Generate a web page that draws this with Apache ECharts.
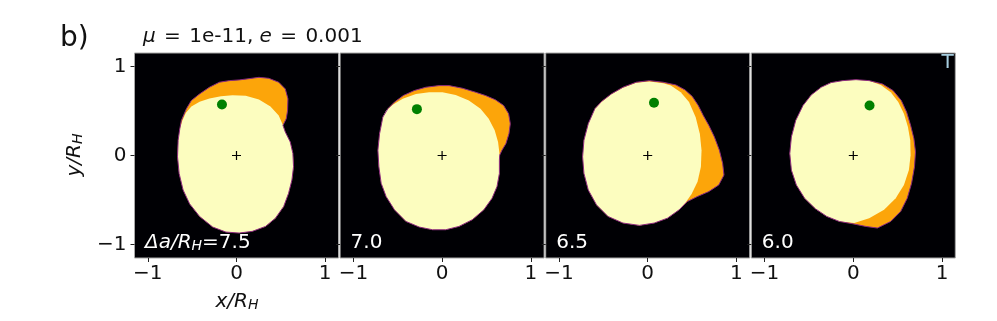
<!DOCTYPE html>
<html>
<head>
<meta charset="utf-8">
<script src="https://cdn.jsdelivr.net/npm/echarts@6/dist/echarts.min.js"></script>
<style>
  html, body { margin: 0; padding: 0; background: #fff; }
  #chart { width: 997px; height: 321px; }
</style>
</head>
<body>
<div id="chart"></div>
<script>
// tick values and panel labels
const tickValues = [-1, 0, 1];
const spacings = ['7.5', '7.0', '6.5', '6.0'];
const axisLimit = 1.15;

// outer outline (orange + yellow) of each stable region, in x/R_H, y/R_H
const outer1 = [[-0.621,0.394],[-0.565,0.524],[-0.509,0.617],[-0.416,0.691],[-0.305,0.766],[-0.193,0.822],[-0.082,0.840],[0.030,0.848],[0.141,0.862],[0.253,0.877],[0.364,0.866],[0.476,0.822],[0.550,0.747],[0.580,0.636],[0.576,0.506],[0.561,0.413],[0.524,0.338],[0.550,0.264],[0.606,0.152],[0.636,0.022],[0.643,-0.126],[0.625,-0.275],[0.587,-0.424],[0.532,-0.572],[0.439,-0.703],[0.327,-0.796],[0.178,-0.851],[0.030,-0.870],[-0.119,-0.859],[-0.268,-0.803],[-0.416,-0.684],[-0.528,-0.543],[-0.602,-0.387],[-0.647,-0.201],[-0.665,-0.015],[-0.658,0.171],[-0.639,0.301]];
const yellow1 = [[-0.610,0.394],[-0.572,0.476],[-0.509,0.550],[-0.416,0.602],[-0.305,0.639],[-0.175,0.665],[-0.045,0.677],[0.104,0.669],[0.253,0.628],[0.383,0.550],[0.476,0.450],[0.524,0.338],[0.550,0.264],[0.606,0.152],[0.636,0.022],[0.643,-0.126],[0.625,-0.275],[0.587,-0.424],[0.532,-0.572],[0.439,-0.703],[0.327,-0.796],[0.178,-0.851],[0.030,-0.870],[-0.119,-0.859],[-0.268,-0.803],[-0.416,-0.684],[-0.528,-0.543],[-0.602,-0.387],[-0.647,-0.201],[-0.665,-0.015],[-0.658,0.171],[-0.639,0.301]];

const outer2 = [[-0.668,0.431],[-0.705,0.245],[-0.724,0.059],[-0.713,-0.126],[-0.687,-0.312],[-0.631,-0.461],[-0.537,-0.610],[-0.407,-0.740],[-0.257,-0.803],[-0.108,-0.833],[0.041,-0.833],[0.190,-0.796],[0.340,-0.721],[0.470,-0.610],[0.563,-0.480],[0.619,-0.349],[0.646,-0.201],[0.646,-0.052],[0.649,0.004],[0.675,0.059],[0.720,0.134],[0.754,0.245],[0.769,0.357],[0.750,0.468],[0.694,0.561],[0.601,0.625],[0.489,0.673],[0.377,0.710],[0.228,0.755],[0.078,0.784],[-0.034,0.784],[-0.183,0.766],[-0.313,0.729],[-0.437,0.673],[-0.537,0.599],[-0.612,0.524]];
const yellow2 = [[-0.668,0.431],[-0.705,0.245],[-0.724,0.059],[-0.713,-0.126],[-0.687,-0.312],[-0.631,-0.461],[-0.537,-0.610],[-0.407,-0.740],[-0.257,-0.803],[-0.108,-0.833],[0.041,-0.833],[0.190,-0.796],[0.340,-0.721],[0.470,-0.610],[0.563,-0.480],[0.619,-0.349],[0.646,-0.201],[0.646,-0.052],[0.649,0.004],[0.631,0.152],[0.593,0.283],[0.526,0.413],[0.433,0.524],[0.302,0.617],[0.153,0.680],[0.004,0.710],[-0.146,0.710],[-0.295,0.691],[-0.444,0.636],[-0.556,0.569],[-0.631,0.506]];

const outer3 = [[-0.596,0.524],[-0.670,0.357],[-0.719,0.171],[-0.734,-0.015],[-0.719,-0.201],[-0.670,-0.387],[-0.577,-0.554],[-0.447,-0.684],[-0.279,-0.758],[-0.093,-0.784],[0.074,-0.758],[0.223,-0.703],[0.354,-0.610],[0.447,-0.517],[0.559,-0.461],[0.689,-0.405],[0.801,-0.331],[0.860,-0.219],[0.845,-0.089],[0.808,0.059],[0.752,0.208],[0.689,0.338],[0.626,0.450],[0.570,0.561],[0.503,0.662],[0.421,0.736],[0.317,0.792],[0.175,0.822],[0.019,0.840],[-0.130,0.822],[-0.279,0.766],[-0.410,0.691],[-0.521,0.606]];
const yellow3 = [[-0.596,0.524],[-0.670,0.357],[-0.719,0.171],[-0.734,-0.015],[-0.719,-0.201],[-0.670,-0.387],[-0.577,-0.554],[-0.447,-0.684],[-0.279,-0.758],[-0.093,-0.784],[0.074,-0.758],[0.223,-0.703],[0.354,-0.610],[0.428,-0.528],[0.495,-0.431],[0.562,-0.294],[0.600,-0.126],[0.607,0.059],[0.588,0.245],[0.540,0.431],[0.466,0.599],[0.372,0.710],[0.261,0.784],[0.175,0.812],[0.019,0.830],[-0.130,0.815],[-0.279,0.760],[-0.410,0.686],[-0.521,0.601]];

const outer4 = [[-0.119,0.840],[0.030,0.851],[0.179,0.840],[0.328,0.803],[0.448,0.729],[0.541,0.617],[0.601,0.487],[0.646,0.338],[0.683,0.190],[0.701,0.041],[0.690,-0.126],[0.657,-0.312],[0.608,-0.480],[0.534,-0.628],[0.422,-0.740],[0.272,-0.814],[0.142,-0.796],[-0.007,-0.766],[-0.157,-0.740],[-0.299,-0.684],[-0.425,-0.599],[-0.549,-0.480],[-0.642,-0.331],[-0.698,-0.164],[-0.716,0.022],[-0.698,0.208],[-0.649,0.394],[-0.567,0.561],[-0.474,0.680],[-0.362,0.766],[-0.250,0.818]];
const yellow4 = [[-0.119,0.840],[0.030,0.851],[0.179,0.840],[0.310,0.792],[0.422,0.710],[0.507,0.599],[0.571,0.468],[0.616,0.320],[0.642,0.171],[0.646,0.004],[0.627,-0.164],[0.571,-0.331],[0.478,-0.480],[0.347,-0.610],[0.179,-0.703],[0.011,-0.758],[-0.157,-0.740],[-0.299,-0.684],[-0.425,-0.599],[-0.549,-0.480],[-0.642,-0.331],[-0.698,-0.164],[-0.716,0.022],[-0.698,0.208],[-0.649,0.394],[-0.567,0.561],[-0.474,0.680],[-0.362,0.766],[-0.250,0.818]];

// planet position (green dot) and centre (+) in each panel
const planets = [[-0.164,0.572],[-0.284,0.520],[0.071,0.591],[0.183,0.561]];
const centres = [[0,0],[0,0],[0,0],[0,0]];

const outers = [outer1, outer2, outer3, outer4];
const yellows = [yellow1, yellow2, yellow3, yellow4];

const FONT = 'DejaVu Sans';
const chart = echarts.init(document.getElementById('chart'), null, { renderer: 'canvas' });

const panelLeft = 134.5, panelStep = 205.6, panelW = 204, panelTop = 53, panelH = 205;

const grids = [], xAxes = [], yAxes = [], series = [];
const minus = v => String(v).replace('-', '\u2212');

function polygonSeries(pts, i, fill, stroke, z) {
  return {
    type: 'custom',
    xAxisIndex: i,
    yAxisIndex: i,
    clip: true,
    z: z,
    silent: true,
    data: pts,
    renderItem: function (params, api) {
      if (params.dataIndex !== 0) return null;
      return {
        type: 'polygon',
        shape: { points: pts.map(p => api.coord(p)) },
        style: { fill: fill, stroke: stroke, lineWidth: stroke === 'none' ? 0 : 1, opacity: 1 }
      };
    }
  };
}

for (let i = 0; i < 4; i++) {
  grids.push({
    left: panelLeft + i * panelStep,
    top: panelTop,
    width: panelW,
    height: panelH,
    show: true,
    backgroundColor: '#000004',
    borderColor: '#a8a8a8',
    borderWidth: 1
  });
  xAxes.push({
    gridIndex: i,
    type: 'value',
    min: -axisLimit,
    max: axisLimit,
    axisLine: { show: false, onZero: false },
    splitLine: { show: false },
    axisTick: { show: true, length: 4, lineStyle: { color: '#222', width: 1 }, customValues: tickValues },
    axisLabel: {
      customValues: tickValues,
      formatter: minus,
      color: '#111',
      fontSize: 20,
      fontFamily: FONT,
      margin: 6
    }
  });
  yAxes.push({
    gridIndex: i,
    type: 'value',
    min: -axisLimit,
    max: axisLimit,
    axisLine: { show: false, onZero: false },
    splitLine: { show: false },
    axisTick: { show: true, length: 4, lineStyle: { color: '#222', width: 1 }, customValues: tickValues },
    axisLabel: {
      show: i === 0,
      customValues: tickValues,
      formatter: minus,
      color: '#111',
      fontSize: 20,
      fontFamily: FONT,
      margin: 8
    }
  });
  series.push(polygonSeries(outers[i], i, '#fca50a', 'none', 1));
  series.push(polygonSeries(yellows[i], i, '#fcfdbf', 'none', 2));
  series.push(polygonSeries(outers[i], i, 'none', '#8a2a80', 3));
  series.push({
    type: 'scatter',
    xAxisIndex: i,
    yAxisIndex: i,
    z: 4,
    silent: true,
    symbol: 'circle',
    symbolSize: 10,
    itemStyle: { color: '#008000', opacity: 1 },
    data: [planets[i]]
  });
  series.push({
    type: 'scatter',
    xAxisIndex: i,
    yAxisIndex: i,
    z: 4,
    silent: true,
    symbol: 'path://M0,5L10,5M5,0L5,10',
    symbolSize: 9,
    itemStyle: { color: 'none', borderColor: '#000', borderWidth: 1.2, opacity: 1 },
    data: [centres[i]]
  });
}

const italic = { fontStyle: 'italic', fontFamily: FONT, fontSize: 20, lineHeight: 20 };
const normal = { fontFamily: FONT, fontSize: 20, lineHeight: 20 };
const eq = { fontFamily: FONT, fontSize: 20, lineHeight: 20, padding: [0, 2, 0, 2] };
const sub = { fontStyle: 'italic', fontFamily: FONT, fontSize: 14, lineHeight: 12, verticalAlign: 'bottom' };

const graphics = [
  { type: 'text', left: 60, top: 25, style: { text: 'b)', font: '28px "DejaVu Sans"', fill: '#111' } },
  {
    type: 'text', x: 143, y: 37,
    style: {
      text: '{i|μ}{e| = }{n|1e-11, }{i|e}{e| = }{n|0.001}',
      verticalAlign: 'middle', fill: '#111',
      rich: {
        i: Object.assign({ fill: '#111' }, italic),
        n: Object.assign({ fill: '#111' }, normal),
        e: Object.assign({ fill: '#111' }, eq)
      }
    }
  },
  {
    type: 'text', x: 947.5, y: 62.5,
    style: { text: 'T', font: '20px "DejaVu Sans"', fill: '#a6cde0', align: 'center', verticalAlign: 'middle' }
  },
  {
    type: 'text', x: 237, y: 302,
    style: {
      text: '{i|x/R}{s|H}', align: 'center', verticalAlign: 'middle',
      rich: { i: Object.assign({ fill: '#111' }, italic), s: Object.assign({ fill: '#111' }, sub) }
    }
  },
  {
    type: 'text', x: 75, y: 155, rotation: Math.PI / 2,
    style: {
      text: '{i|y/R}{s|H}', align: 'center', verticalAlign: 'middle',
      rich: { i: Object.assign({ fill: '#111' }, italic), s: Object.assign({ fill: '#111' }, sub) }
    }
  }
];

spacings.forEach((s, i) => {
  const first = i === 0;
  graphics.push({
    type: 'text', x: panelLeft + i * panelStep + 10.5, y: 243, z: 10,
    style: {
      text: first ? '{i|Δa/R}{s|H}{n|=' + s + '}' : '{n|' + s + '}',
      verticalAlign: 'middle',
      rich: {
        i: Object.assign({ fill: '#fff' }, italic),
        s: Object.assign({ fill: '#fff' }, sub),
        n: Object.assign({ fill: '#fff' }, normal)
      }
    }
  });
});

chart.setOption({
  backgroundColor: '#fff',
  animation: false,
  grid: grids,
  xAxis: xAxes,
  yAxis: yAxes,
  series: series,
  graphic: graphics
});
window.onresize = () => chart.resize();
</script>
</body>
</html>
